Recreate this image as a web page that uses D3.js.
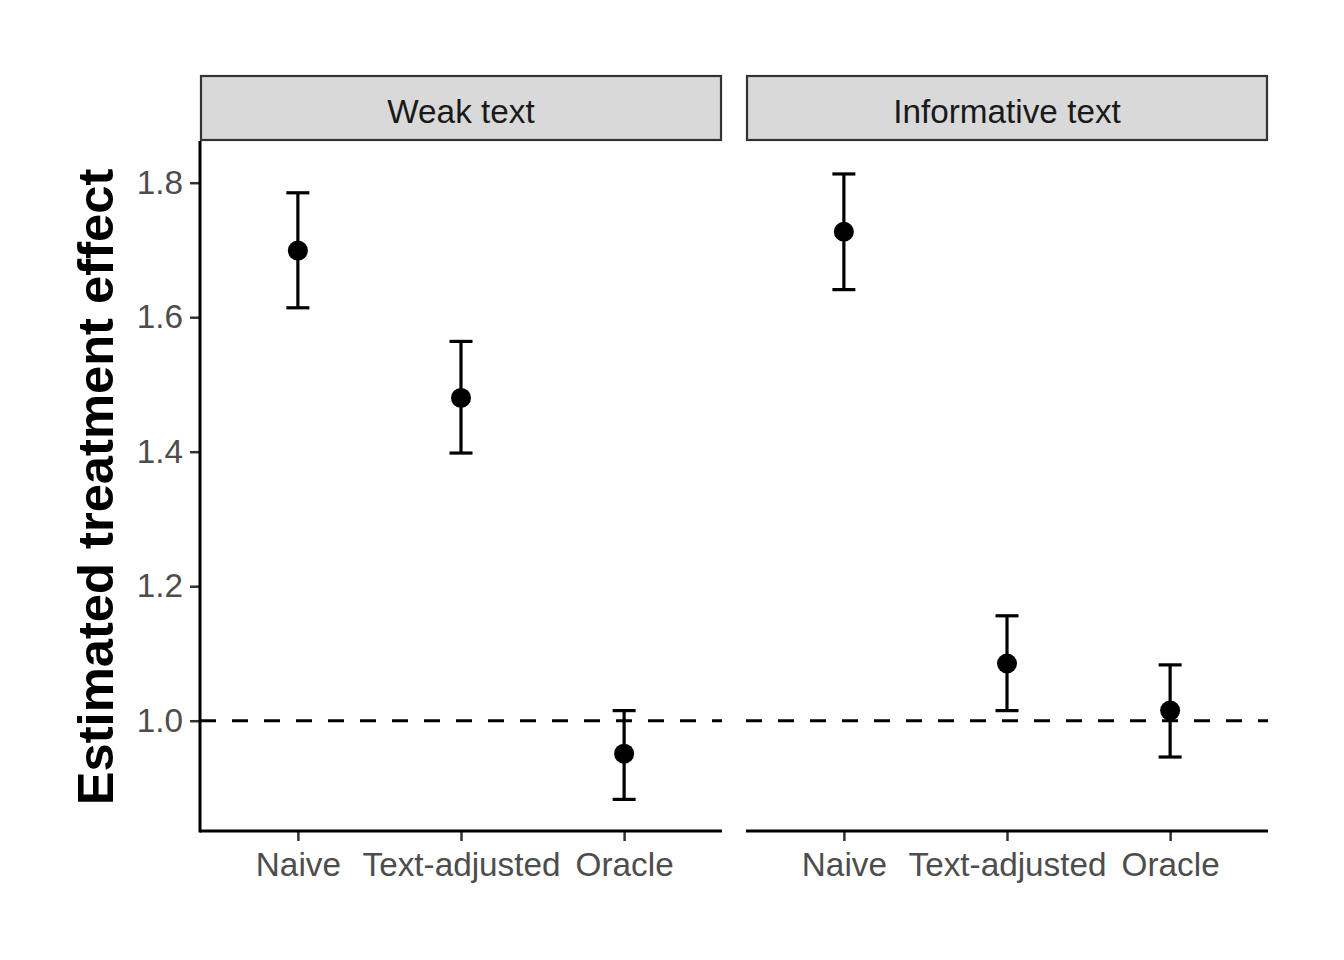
<!DOCTYPE html>
<html>
<head>
<meta charset="utf-8">
<script src="https://cdn.jsdelivr.net/npm/d3@7"></script>
<style>
  body { margin: 0; background: #fff; }
  text { font-family: "Liberation Sans", Arial, sans-serif; }
</style>
</head>
<body>
<div id="chart"></div>
<script>
const panels = ['Weak text', 'Informative text'];
const methods = ['Naive', 'Text-adjusted', 'Oracle'];
// estimate, lower, upper per panel, in method order
const estimates = [[1.699, 1.480, 0.951], [1.727, 1.085, 1.015]];
const lowers = [[1.614, 1.398, 0.883], [1.641, 1.015, 0.946]];
const uppers = [[1.785, 1.564, 1.015], [1.813, 1.156, 1.083]];
const yTicks = [1.0, 1.2, 1.4, 1.6, 1.8];
const refLine = 1.0;

const width = 1344, height = 960;
const svg = d3.select('#chart').append('svg')
    .attr('width', width)
    .attr('height', height);

const panelLeft = [200, 746], panelW = 522;
const plotTop = 141, plotBottom = 831;
const stripTop = 75;

const y = d3.scaleLinear()
    .domain([0.836, 1.862])
    .range([plotBottom, plotTop]);

panels.forEach(function(name, p) {
    const x = d3.scalePoint()
        .domain(methods)
        .range([panelLeft[p], panelLeft[p] + panelW])
        .padding(0.6);

    const g = svg.append('g');

    // strip
    g.append('rect')
        .attr('x', panelLeft[p] + 1)
        .attr('y', stripTop + 1)
        .attr('width', panelW - 2)
        .attr('height', plotTop - stripTop - 2)
        .attr('fill', '#D9D9D9')
        .attr('stroke', '#333333')
        .attr('stroke-width', 2.2);
    g.append('text')
        .attr('x', panelLeft[p] + panelW / 2)
        .attr('y', 111)
        .attr('dy', '0.35em')
        .attr('text-anchor', 'middle')
        .attr('font-size', 33.3)
        .attr('fill', '#1A1A1A')
        .text(name);

    // reference line
    g.append('line')
        .attr('x1', panelLeft[p])
        .attr('x2', panelLeft[p] + panelW)
        .attr('y1', y(refLine))
        .attr('y2', y(refLine))
        .attr('stroke', '#000')
        .attr('stroke-width', 3)
        .attr('stroke-dasharray', '16,16');

    // x axis
    const xAxis = g.append('g')
        .attr('transform', 'translate(0,' + plotBottom + ')')
        .call(d3.axisBottom(x).tickSize(10).tickPadding(11));
    xAxis.select('.domain').remove();
    xAxis.selectAll('.tick line').attr('stroke', '#333333').attr('stroke-width', 2.5);
    xAxis.selectAll('.tick text')
        .attr('font-size', 33.3)
        .attr('fill', '#4D4D4D')
        .attr('font-family', '"Liberation Sans", Arial, sans-serif');
    g.append('line')
        .attr('x1', panelLeft[p])
        .attr('x2', panelLeft[p] + panelW)
        .attr('y1', plotBottom)
        .attr('y2', plotBottom)
        .attr('stroke', '#000')
        .attr('stroke-width', 3);

    // error bars and points
    methods.forEach(function(m, i) {
        const cx = x(m);
        g.append('line')
            .attr('x1', cx).attr('x2', cx)
            .attr('y1', y(lowers[p][i])).attr('y2', y(uppers[p][i]))
            .attr('stroke', '#000').attr('stroke-width', 3.2);
        [lowers[p][i], uppers[p][i]].forEach(function(v) {
            g.append('line')
                .attr('x1', cx - 11.5).attr('x2', cx + 11.5)
                .attr('y1', y(v)).attr('y2', y(v))
                .attr('stroke', '#000').attr('stroke-width', 3.2);
        });
        g.append('circle')
            .attr('cx', cx)
            .attr('cy', y(estimates[p][i]))
            .attr('r', 10)
            .attr('fill', '#000');
    });
});

// y axis on first panel
const yAxis = svg.append('g')
    .attr('transform', 'translate(' + panelLeft[0] + ',0)')
    .call(d3.axisLeft(y).tickValues(yTicks).tickFormat(d3.format('.1f')).tickSize(10).tickPadding(7));
yAxis.select('.domain').remove();
yAxis.selectAll('.tick line').attr('stroke', '#333333').attr('stroke-width', 2.5);
yAxis.selectAll('.tick text')
    .attr('font-size', 33.3)
    .attr('fill', '#4D4D4D')
    .attr('font-family', '"Liberation Sans", Arial, sans-serif');
svg.append('line')
    .attr('x1', panelLeft[0]).attr('x2', panelLeft[0])
    .attr('y1', plotTop).attr('y2', plotBottom + 1.5)
    .attr('stroke', '#000').attr('stroke-width', 3);

svg.append('text')
    .attr('transform', 'translate(113,' + ((plotTop + plotBottom) / 2 + 1) + ') rotate(-90)')
    .attr('text-anchor', 'middle')
    .attr('font-size', 50.7)
    .attr('font-weight', 'bold')
    .attr('fill', '#000')
    .text('Estimated treatment effect');
</script>
</body>
</html>
